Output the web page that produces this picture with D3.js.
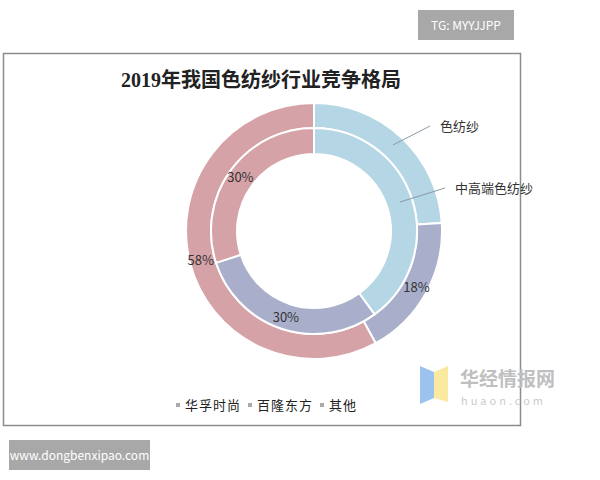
<!DOCTYPE html>
<html>
<head>
<meta charset="utf-8">
<script src="https://cdn.jsdelivr.net/npm/d3@7"></script>
<style>
  body { margin: 0; background: #fff; }
  svg { font-family: "Noto Sans CJK SC", "Noto Sans", sans-serif; }
</style>
</head>
<body>
<svg id="chart" width="600" height="480"></svg>
<script>
const companies = ["华孚时尚", "百隆东方", "其他"];
const colors = ["#b5d6e4", "#a9afcb", "#d5a2a7"];
const outerValues = [24, 18, 58];   // 色纺纱
const innerValues = [40, 30, 30];   // 中高端色纺纱
const ringNames = ["色纺纱", "中高端色纺纱"];

const svg = d3.select("#chart");
const cx = 314, cy = 231;

// watermark boxes
svg.append("rect").attr("x", 418).attr("y", 10).attr("width", 96).attr("height", 30).attr("fill", "#a8a8a8");
svg.append("text").attr("x", 466).attr("y", 30).attr("text-anchor", "middle")
  .attr("fill", "#fff").attr("font-size", 12).text("TG: MYYJJPP");
svg.append("rect").attr("x", 9).attr("y", 440).attr("width", 141).attr("height", 30).attr("fill", "#a8a8a8");
svg.append("text").attr("x", 79.5).attr("y", 460).attr("text-anchor", "middle")
  .attr("fill", "#fff").attr("font-size", 12).text("www.dongbenxipao.com");

// chart frame
svg.append("rect").attr("x", 3.5).attr("y", 53.5).attr("width", 517).attr("height", 372)
  .attr("fill", "#fff").attr("stroke", "#8c8c8c").attr("stroke-width", 1.5);

svg.append("text").attr("x", 261).attr("y", 87).attr("text-anchor", "middle")
  .attr("font-size", 20).attr("font-weight", "bold").attr("fill", "#222")
  .attr("font-family", "'Liberation Serif', 'Noto Sans CJK SC', serif")
  .text("2019年我国色纺纱行业竞争格局");

const pie = d3.pie().sort(null).value(d => d);
const g = svg.append("g").attr("transform", `translate(${cx},${cy})`);

function ring(values, r0, r1, labelR, showIdx) {
  const arcs = pie(values);
  const arc = d3.arc().innerRadius(r0).outerRadius(r1);
  g.append("g").selectAll("path").data(arcs).join("path")
    .attr("d", arc).attr("fill", (d, i) => colors[i])
    .attr("stroke", "#fff").attr("stroke-width", 2);
  const la = d3.arc().innerRadius(labelR).outerRadius(labelR);
  g.append("g").selectAll("text").data(arcs.filter((d, i) => showIdx.includes(i))).join("text")
    .attr("transform", d => `translate(${la.centroid(d)})`)
    .attr("text-anchor", "middle").attr("dy", "0.35em")
    .attr("font-size", 13).attr("fill", "#333")
    .text(d => d.value + "%");
}
ring(outerValues, 103, 128, 117, [1, 2]);
ring(innerValues, 77, 103, 91, [1, 2]);

// ring name callouts
const callouts = [
  { name: ringNames[0], from: [393, 145], to: [430, 126], tx: 440, ty: 131 },
  { name: ringNames[1], from: [400, 202], to: [445, 188], tx: 455, ty: 193 }
];
callouts.forEach(c => {
  svg.append("line").attr("x1", c.from[0]).attr("y1", c.from[1]).attr("x2", c.to[0]).attr("y2", c.to[1])
    .attr("stroke", "#8a9aa6").attr("stroke-width", 1);
  svg.append("text").attr("x", c.tx).attr("y", c.ty).attr("font-size", 13).attr("fill", "#333").text(c.name);
});

// legend
const legendX = [176, 248, 320];
companies.forEach((name, i) => {
  svg.append("rect").attr("x", legendX[i]).attr("y", 403).attr("width", 4).attr("height", 4).attr("fill", "#aaa");
  svg.append("text").attr("x", legendX[i] + 9).attr("y", 410).attr("font-size", 13)
    .attr("letter-spacing", 1).attr("fill", "#222").text(name);
});

// logo
svg.append("path").attr("d", "M420,366 L434,372 L434,398 L420,404 Z").attr("fill", "#9cc3f0");
svg.append("path").attr("d", "M434,372 L448,366 L448,402 L434,398 Z").attr("fill", "#fbe9a0");
svg.append("text").attr("x", 460).attr("y", 386).attr("font-size", 19).attr("font-weight", "bold")
  .attr("fill", "#bfbfbf").text("华经情报网");
svg.append("text").attr("x", 461).attr("y", 405).attr("font-size", 11).attr("letter-spacing", 3)
  .attr("fill", "#cccccc").text("huaon.com");
</script>
</body>
</html>
